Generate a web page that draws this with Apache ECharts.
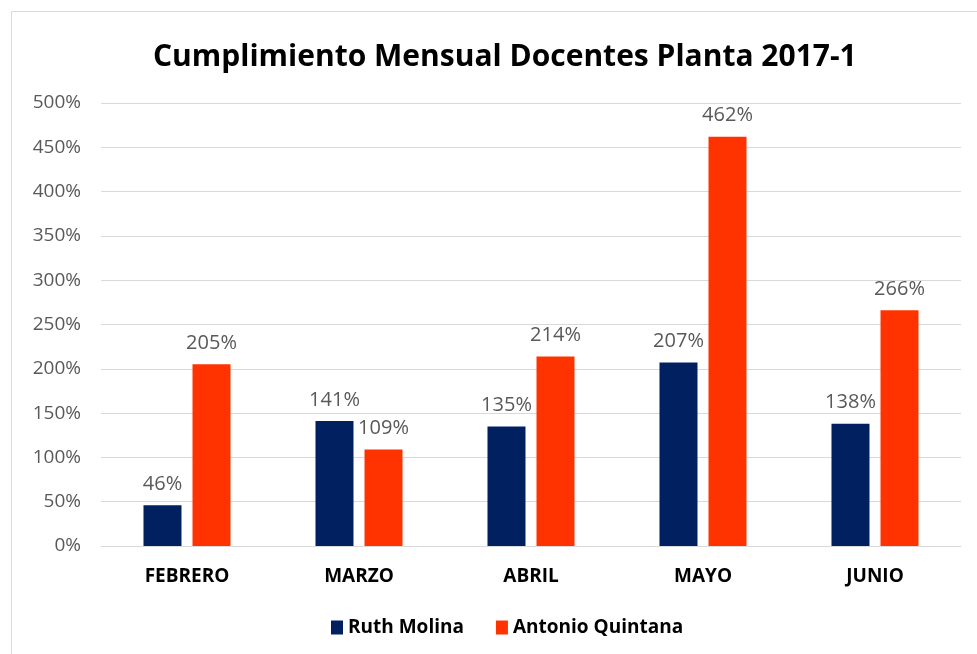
<!DOCTYPE html>
<html>
<head>
<meta charset="utf-8">
<script src="https://cdn.jsdelivr.net/npm/echarts@6/dist/echarts.min.js"></script>
<style>
  html, body { margin: 0; padding: 0; background: #fff; }
</style>
</head>
<body>
<div id="chart" style="width: 977px; height: 654px;"></div>
<script>
  // datos del grafico
  var meses = ['FEBRERO', 'MARZO', 'ABRIL', 'MAYO', 'JUNIO'];
  var ruthMolina = [46, 141, 135, 207, 138];
  var antonioQuintana = [205, 109, 214, 462, 266];

  var myChart = echarts.init(document.getElementById('chart'));
  myChart.setOption({
    animation: false,
    textStyle: { fontFamily: 'Open Sans' },
    graphic: [{
      type: 'rect',
      shape: { x: 11.5, y: 11.5, width: 1000, height: 700 },
      style: { fill: 'none', stroke: '#d9d9d9', lineWidth: 1 },
      silent: true
    }],
    title: {
      text: 'Cumplimiento Mensual Docentes Planta 2017-1',
      left: 148,
      top: 37,
      textStyle: { fontSize: 30, fontWeight: 'bold', color: '#000', fontFamily: 'Open Sans' }
    },
    legend: {
      bottom: 12,
      left: 326,
      itemWidth: 12,
      itemHeight: 14,
      itemGap: 32,
      icon: 'rect',
      textStyle: { fontSize: 19, fontWeight: 'bold', color: '#000' },
      data: ['Ruth Molina', 'Antonio Quintana']
    },
    grid: { left: 101, right: 16, top: 103, bottom: 108, containLabel: false },
    xAxis: {
      type: 'category',
      data: meses,
      axisLine: { lineStyle: { color: '#d9d9d9', width: 1 } },
      axisTick: { show: false },
      axisLabel: { fontSize: 19, fontWeight: 'bold', color: '#000', margin: 21 }
    },
    yAxis: {
      type: 'value',
      min: 0,
      max: 500,
      interval: 50,
      axisLine: { show: false },
      axisTick: { show: false },
      splitLine: { lineStyle: { color: '#d9d9d9', width: 1 } },
      axisLabel: { fontSize: 19, color: '#595959', margin: 20, formatter: '{value}%' }
    },
    series: [
      {
        name: 'Ruth Molina',
        type: 'bar',
        data: ruthMolina,
        barWidth: 38,
        barGap: '29%',
        itemStyle: { color: '#002060' },
        label: { show: true, position: 'top', distance: 11, fontSize: 20, color: '#595959', formatter: '{c}%' }
      },
      {
        name: 'Antonio Quintana',
        type: 'bar',
        data: antonioQuintana,
        barWidth: 38,
        itemStyle: { color: '#ff3300' },
        label: { show: true, position: 'top', distance: 11, fontSize: 20, color: '#595959', formatter: '{c}%' }
      }
    ]
  });
</script>
</body>
</html>
